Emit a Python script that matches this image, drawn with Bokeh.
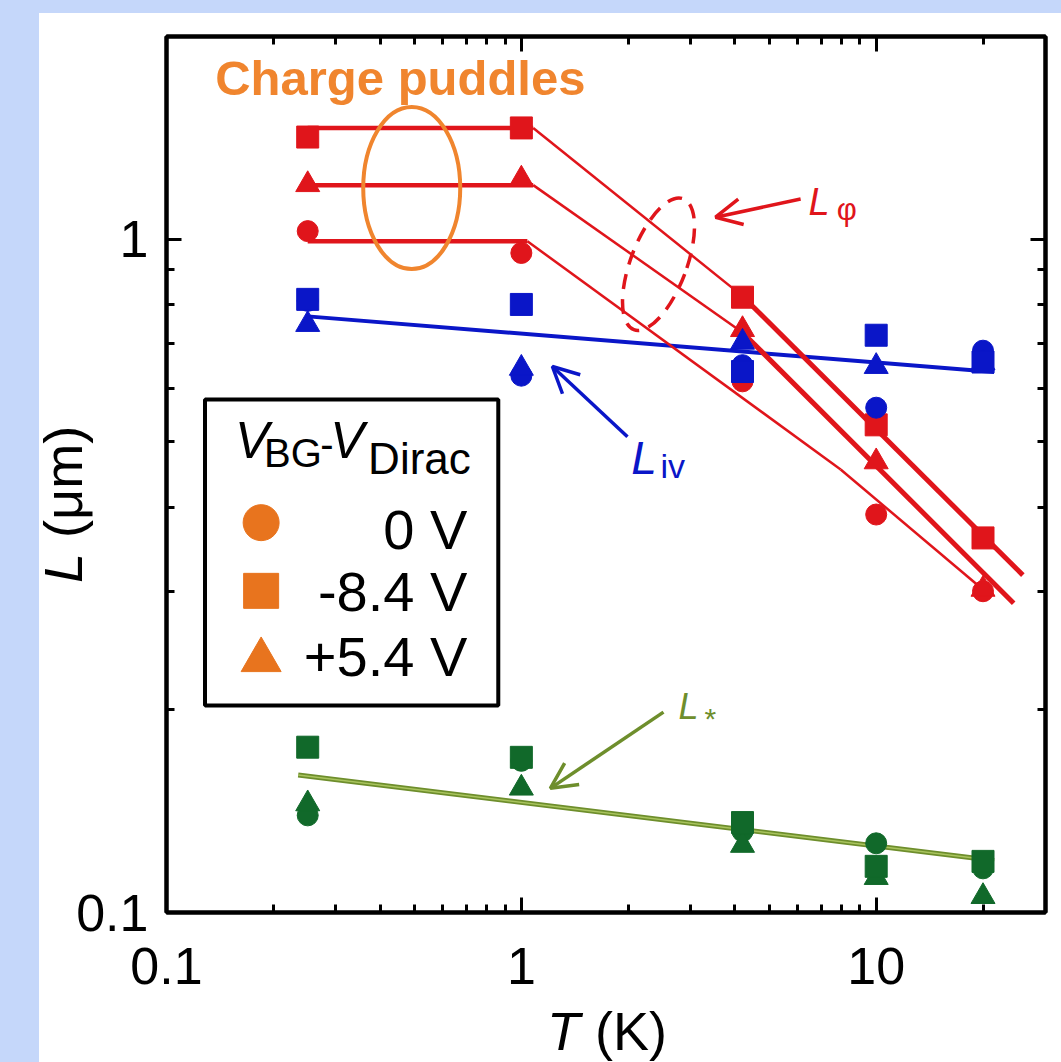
import math
from bokeh.plotting import figure
from bokeh.models import (FixedTicker, LogAxis, Label, Arrow, OpenHead, Spacer, Div,
                          BasicTickFormatter)
from bokeh.layouts import column, row
from bokeh.embed import file_html
from bokeh.resources import INLINE

# ---------------- data ----------------
T_K = [0.25, 1, 4.2, 10, 20]

# L_phi (red)
Lphi_0V = [1.028, 0.954, 0.615, 0.39, 0.30]
Lphi_m84 = [1.418, 1.463, 0.82, 0.53, 0.36]
Lphi_p54 = [1.205, 1.228, 0.734, 0.467, 0.302]
# L_iv (blue)
Liv_0V = [0.81, 0.627, 0.65, 0.562, 0.683]
Liv_m84 = [0.814, 0.80, 0.636, 0.72, 0.657]
Liv_p54 = [0.747, 0.643, 0.703, 0.647, 0.655]
# L_* (green)
Ls_0V = [0.1394, 0.168, 0.132, 0.1267, 0.1163]
Ls_m84 = [0.176, 0.170, 0.136, 0.1171, 0.1191]
Ls_p54 = [0.145, 0.153, 0.1258, 0.1127, 0.1056]

# fit / guide lines
fit_T_m84 = [0.25, 1.08, 4.2, 25.9]
fit_L_m84 = [1.463, 1.463, 0.823, 0.317]
fit_T_p54 = [0.25, 1.08, 4.2, 24.4]
fit_L_p54 = [1.203, 1.203, 0.727, 0.288]
fit_T_0V = [0.25, 1.04, 7.94, 20.1]
fit_L_0V = [0.993, 0.993, 0.455, 0.301]
fit_T_iv = [0.25, 21.5]
fit_L_iv = [0.768, 0.635]
fit_T_s = [0.235, 21.5]
fit_L_s = [0.160, 0.1195]

legend_labels = ["0 V", "-8.4 V", "+5.4 V"]
x_major = [0.1, 1, 10]
x_minor = [0.2, 0.3, 0.4, 0.5, 0.6, 0.7, 0.8, 0.9, 2, 3, 4, 5, 6, 7, 8, 9, 20, 30]
y_major = [0.1, 1]
y_minor = [0.2, 0.3, 0.4, 0.5, 0.6, 0.7, 0.8, 0.9, 2]
x_labels = {0.1: "0.1", 1: "1", 10: "10"}
y_labels = {0.1: "0.1", 1: "1"}

# ---------------- styles ----------------
RED = "#e0151b"
BLUE = "#0a16c8"
GREEN = "#11692a"
OLIVE = "#6e8e2c"
OLIVE_L = "#a9c45e"
ORANGE = "#e8741e"
ORANGE_T = "#f0852e"
BG_BLUE = "#c5d7fa"
FONT = "Liberation Sans"

p = figure(width=1022, height=1049, x_axis_type="log", y_axis_type="log",
           x_range=(0.1, 30), y_range=(0.1, 2),
           output_backend="svg", toolbar_location=None,
           min_border_left=127, min_border_right=16,
           min_border_top=23, min_border_bottom=150)
p.background_fill_color = "white"
p.border_fill_color = "white"
p.outline_line_color = "black"
p.outline_line_width = 4
p.xgrid.visible = False
p.ygrid.visible = False


def style_axis(ax, ticks, minor, labels, show_labels, standoff):
    ax.ticker = FixedTicker(ticks=ticks, minor_ticks=minor)
    ax.formatter = BasicTickFormatter()
    ax.axis_line_color = "black"
    ax.axis_line_width = 4
    ax.major_tick_in = 15
    ax.major_tick_out = 0
    ax.minor_tick_in = 8
    ax.minor_tick_out = 0
    ax.major_tick_line_width = 3
    ax.minor_tick_line_width = 3
    ax.major_tick_line_color = "black"
    ax.minor_tick_line_color = "black"
    ax.major_label_text_font = FONT
    ax.major_label_text_color = "black"
    ax.axis_label = None
    if show_labels:
        ax.major_label_overrides = labels
        ax.major_label_text_font_size = "52px"
        ax.major_label_standoff = standoff
    else:
        ax.major_label_overrides = {k: "" for k in labels}
        ax.major_label_text_font_size = "10px"
        ax.major_label_standoff = 0


style_axis(p.xaxis[0], x_major, x_minor, x_labels, True, 35)
style_axis(p.yaxis[0], y_major, y_minor, y_labels, True, 18)
top_ax = LogAxis()
right_ax = LogAxis()
style_axis(top_ax, x_major, x_minor, x_labels, False, 0)
style_axis(right_ax, y_major, y_minor, y_labels, False, 0)
p.add_layout(top_ax, "above")
p.add_layout(right_ax, "right")

# ---------------- lines ----------------
p.line(fit_T_iv, fit_L_iv, line_color=BLUE, line_width=4)
for fT, fL, w3 in [(fit_T_m84, fit_L_m84, 5), (fit_T_p54, fit_L_p54, 5), (fit_T_0V, fit_L_0V, 2.5)]:
    p.line(fT[0:2], fL[0:2], line_color=RED, line_width=4.5)
    p.line(fT[1:3], fL[1:3], line_color=RED, line_width=2.5)
    p.line(fT[2:4], fL[2:4], line_color=RED, line_width=w3)
p.line(fit_T_s, fit_L_s, line_color=OLIVE, line_width=5)
p.line(fit_T_s, fit_L_s, line_color=OLIVE_L, line_width=1.5)


# ---------------- markers ----------------
def markers(c0, cm, cp, color):
    p.scatter(T_K, c0, marker="circle", size=21, fill_color=color, line_color=color)
    p.scatter(T_K, cp, marker="triangle", size=24, fill_color=color, line_color=color)
    p.scatter(T_K, cm, marker="square", size=22, fill_color=color, line_color=color)


markers(Lphi_0V, Lphi_m84, Lphi_p54, RED)
markers(Liv_0V, Liv_m84, Liv_p54, BLUE)
markers(Ls_0V, Ls_m84, Ls_p54, GREEN)

# ---------------- charge puddles ----------------
p.ellipse(x=[0.491], y=[1.191], width=97, height=162, width_units="screen",
          height_units="screen", fill_color=None, line_color=ORANGE_T, line_width=4)

p.ellipse(x=[2.435], y=[0.918], width=56, height=140, angle=-0.36,
          width_units="screen", height_units="screen", fill_color=None,
          line_color=RED, line_width=3.5, line_dash="15 10")

# ---------------- legend box ----------------
p.quad(left=[0.1284], right=[0.861], top=[0.578], bottom=[0.203],
       fill_color="white", line_color="black", line_width=4)
leg_T = [0.1848, 0.1848, 0.1848]
leg_L = [0.3793, 0.3004, 0.2371]
p.scatter([leg_T[0]], [leg_L[0]], marker="circle", size=36, fill_color=ORANGE, line_color=ORANGE)
p.scatter([leg_T[1]], [leg_L[1]], marker="square", size=35, fill_color=ORANGE, line_color=ORANGE)
p.scatter([leg_T[2]], [leg_L[2]], marker="triangle", size=40, fill_color=ORANGE, line_color=ORANGE)

PX_PER_DECADE_Y = 672.0


def lab(x, y, text, size, color="black", style="normal", align="left", angle=0.0):
    # y is the wanted alphabetic baseline; compensate the label's baseline offset
    y_adj = y * 10 ** (0.33 * size / PX_PER_DECADE_Y)
    p.add_layout(Label(x=x, y=y_adj, text=text, text_font=FONT, text_font_size=f"{size}px",
                       text_color=color, text_font_style=style, text_align=align,
                       text_baseline="alphabetic", angle=angle))


lab(0.456, 1.644, "Charge puddles", 49, color=ORANGE_T, style="bold", align="center")

leg_text_L = [0.348, 0.2813, 0.2253]
for t, ly in zip(legend_labels, leg_text_L):
    lab(0.7043, ly, t, 56, align="right")

lab(0.156, 0.4738, "V", 51, style="italic")
lab(0.1884, 0.4595, "BG", 40)
lab(0.271, 0.4738, "-", 40)
lab(0.2892, 0.4738, "V", 51, style="italic")
lab(0.370, 0.4501, "Dirac", 44)

# ---------------- annotations ----------------
lab(6.45, 1.089, "L", 38, color=RED, style="italic")
lab(7.74, 1.067, "φ", 31, color=RED)
p.add_layout(Arrow(end=OpenHead(size=26, line_color=RED, line_width=3.5),
                   x_start=6.124, y_start=1.147, x_end=3.526, y_end=1.078,
                   line_color=RED, line_width=3.5))

lab(2.04, 0.449, "L", 46, color=BLUE, style="italic")
lab(2.466, 0.443, "iv", 34, color=BLUE)
p.add_layout(Arrow(end=OpenHead(size=26, line_color=BLUE, line_width=3.5),
                   x_start=1.991, y_start=0.5089, x_end=1.223, y_end=0.647,
                   line_color=BLUE, line_width=3.5))

lab(2.773, 0.1944, "L", 36, color=OLIVE, style="italic")
lab(3.283, 0.1878, "*", 30, color=OLIVE)
p.add_layout(Arrow(end=OpenHead(size=26, line_color=OLIVE, line_width=3.5),
                   x_start=2.515, y_start=0.1984, x_end=1.207, y_end=0.1529,
                   line_color=OLIVE, line_width=3.5))

# ---------------- axis titles (HTML, mixed italic / upright) ----------------
title_css = {"position": "absolute", "font-family": "'Liberation Sans', Arial, sans-serif",
             "font-size": "54px", "line-height": "54px", "color": "black",
             "white-space": "nowrap", "margin": "0", "padding": "0"}
xtitle = Div(text="<i>T</i>&nbsp;(K)",
             styles=dict(title_css, left="547px", top="1004px"))
ytitle = Div(text="<i>L</i>&nbsp;(μm)",
             styles=dict(title_css, left="36px", top="583px",
                         transform="rotate(-90deg)", **{"transform-origin": "0 0"}))

# ---------------- page layout ----------------
top_strip = Spacer(width=1061, height=13, styles={"background-color": BG_BLUE})
left_strip = Spacer(width=39, height=1049, styles={"background-color": BG_BLUE})
layout = column(top_strip, row(left_strip, p, spacing=0), xtitle, ytitle, spacing=0,
                styles={"position": "relative"})

open("out.html", "w").write(file_html(layout, INLINE))
